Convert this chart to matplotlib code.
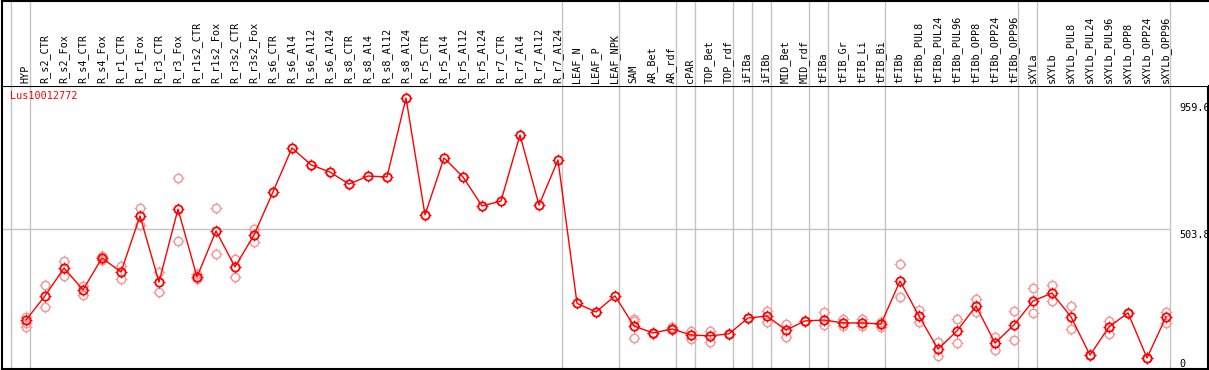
import numpy as np
import matplotlib
matplotlib.use("Agg")
import matplotlib.pyplot as plt
from matplotlib.path import Path

gene = "Lus10012772"

samples = ["HYP", "R_s2_CTR", "R_s2_Fox", "R_s4_CTR", "R_s4_Fox", "R_r1_CTR", "R_r1_Fox",
           "R_r3_CTR", "R_r3_Fox", "R_r1s2_CTR", "R_r1s2_Fox", "R_r3s2_CTR", "R_r3s2_Fox",
           "R_s6_CTR", "R_s6_Al4", "R_s6_Al12", "R_s6_Al24", "R_s8_CTR", "R_s8_Al4",
           "R_s8_Al12", "R_s8_Al24", "R_r5_CTR", "R_r5_Al4", "R_r5_Al12", "R_r5_Al24",
           "R_r7_CTR", "R_r7_Al4", "R_r7_Al12", "R_r7_Al24", "LEAF_N", "LEAF_P", "LEAF_NPK",
           "SAM", "AR_Bet", "AR_rdf", "cPAR", "TOP_Bet", "TOP_rdf", "iFIBa", "iFIBb",
           "MID_Bet", "MID_rdf", "tFIBa", "tFIB_Gr", "tFIB_Li", "tFIB_Bi", "tFIBb",
           "tFIBb_PUL8", "tFIBb_PUL24", "tFIBb_PUL96", "tFIBb_OPP8", "tFIBb_OPP24",
           "tFIBb_OPP96", "sXYLa", "sXYLb", "sXYLb_PUL8", "sXYLb_PUL24", "sXYLb_PUL96",
           "sXYLb_OPP8", "sXYLb_OPP24", "sXYLb_OPP96"]

# mean expression per sample
mean_expr = [187, 271, 368, 292, 403, 354, 549, 319, 573, 337, 497, 372, 483,
             633, 786, 727, 702, 660, 688, 685, 959.6, 553, 751, 685, 584,
             601, 831, 587, 744, 245, 215, 271,
             166, 142, 156, 135, 132, 139, 194, 201, 152, 184, 187, 177, 177, 173, 323,
             201, 86, 149, 236, 107, 170, 253, 281, 198, 65, 163, 212, 55, 198]

nan = np.nan
# replicate values (nan where no replicate is shown)
rep_a = [198, 309, 393, 306, 410, 375, 577, 354, 681, 347, 577, 399, 504,
         nan, nan, nan, nan, nan, nan, nan, nan, nan, nan, nan, nan, nan, nan, nan, nan,
         nan, nan, nan,
         191, 142, 163, 149, 149, 139, 194, 219, 173, 184, 215, 191, 191, 180, 382,
         222, 111, 191, 260, 128, 219, 299, 309, 236, 65, 184, 212, 55, 215]
rep_b = [163, 232, 340, 274, 396, 330, 518, 285, 462, 330, 417, 337, 459,
         nan, nan, nan, nan, nan, nan, nan, nan, nan, nan, nan, nan, nan, nan, nan, nan,
         nan, nan, nan,
         125, 139, 152, 121, 111, 137, 194, 180, 128, 184, 170, 166, 166, 163, 267,
         180, 62, 107, 215, 83, 118, 212, 253, 156, 65, 139, 212, 55, 177]
rep_c = [177] + [nan] * 31 + [184] + [nan] * 28

# group separators drawn after these sample indices
separators = [-1, 0, 28, 31, 34, 35, 37, 38, 39, 41, 42, 45, 52, 53, 60]

# four short ticks around each circle
ticks = Path([(0, 0.75), (0, 1), (0, -0.75), (0, -1), (0.75, 0), (1, 0), (-0.75, 0), (-1, 0)],
             [Path.MOVETO, Path.LINETO] * 4)

W, H = 1209, 370
fig = plt.figure(figsize=(W / 100, H / 100), dpi=100)
x = np.arange(len(samples))
x0 = (1.5 - 26) / 19
x1 = (1207.5 - 26) / 19

ax = fig.add_axes([1.5 / W, 1.5 / H, 1206 / W, 283 / H])
hx = fig.add_axes([1.5 / W, 284.5 / H, 1206 / W, 85 / H], sharex=ax)

grey = "#c4c4c4"
for s in separators:
    ax.axvline(s + 0.21, color=grey, lw=1, zorder=0)
    hx.axvline(s + 0.21, color=grey, lw=1, zorder=0)
ax.hlines(503.8, x0, 60.21, color=grey, lw=1, zorder=0)

pink = "#f09a9a"
red = "#ff0000"
for rep in (rep_a, rep_b, rep_c):
    ax.plot(x, rep, ls="none", marker="o", ms=6, mfc="none", mec=pink, mew=1.1, zorder=2)
    ax.plot(x, rep, ls="none", marker=ticks, ms=8.4, mec=pink, mew=0.8, zorder=2)
ax.plot(x, mean_expr, color=red, lw=1, zorder=3)
ax.plot(x, mean_expr, ls="none", marker="o", ms=6, mfc="none", mec=red, mew=1.3, zorder=3)
ax.plot(x, mean_expr, ls="none", marker=ticks, ms=8.4, mec=red, mew=0.8, zorder=3)

ax.set_xlim(x0, x1)
ax.set_ylim(18.4, 1003.1)
ax.set_xticks([])
ax.set_yticks([])
for sp in ax.spines.values():
    sp.set_linewidth(1.5)

mono = "DejaVu Sans Mono"
ax.text(8.5 / 1206, 0.982, gene, transform=ax.transAxes, color=red,
        family=mono, fontsize=7.3, va="top", ha="left")

lab_x = (1179 - 26) / 19
ax.text(lab_x, 942, "959.6", family=mono, fontsize=7.3, va="top", ha="left", clip_on=True)
ax.text(lab_x, 500, "503.8", family=mono, fontsize=7.3, va="top", ha="left", clip_on=True)
ax.text(lab_x, 51.5, "0", family=mono, fontsize=7.3, va="top", ha="left", clip_on=True)

hx.set_ylim(0, 1)
hx.set_yticks([])
hx.tick_params(axis="x", bottom=False, labelbottom=False)
hx.spines["right"].set_visible(False)
hx.spines["bottom"].set_visible(False)
hx.spines["top"].set_linewidth(1.5)
hx.spines["left"].set_linewidth(1.5)
for i, name in enumerate(samples):
    hx.text(i - 0.03, 0.03, name, rotation=90, ha="center", va="bottom",
            family=mono, fontsize=7.3)

fig.savefig("out.png", dpi=100)
